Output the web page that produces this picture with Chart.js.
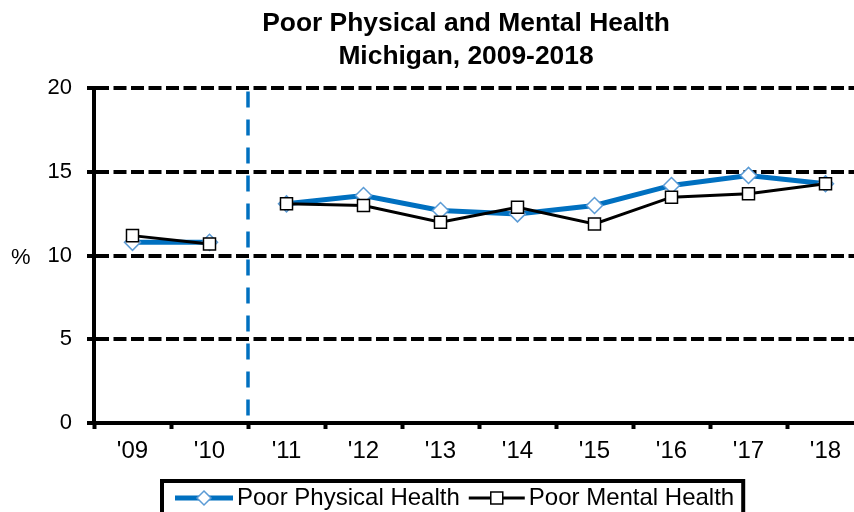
<!DOCTYPE html>
<html>
<head>
<meta charset="utf-8">
<script src="https://cdn.jsdelivr.net/npm/chart.js@4"></script>
<style>
  html, body { margin: 0; padding: 0; background: #fff; overflow: hidden; }
  #wrap { width: 932px; height: 512px; }
</style>
</head>
<body>
<div id="wrap"><canvas id="healthChart" width="932" height="512"></canvas></div>
<script>
var years = ["'09", "'10", "'11", "'12", "'13", "'14", "'15", "'16", "'17", "'18"];
var physical = [10.8, 10.8, 13.1, 13.6, 12.7, 12.5, 13.0, 14.2, 14.8, 14.3];
var mental = [11.2, 10.7, 13.1, 13.0, 12.0, 12.9, 11.9, 13.5, 13.7, 14.3];
var yTicks = [0, 5, 10, 15, 20];
var seriesNames = ['Poor Physical Health', 'Poor Mental Health'];

var FONT = 'Liberation Sans, Arial, sans-serif';
var BLUE = '#0070C0';
var LIGHT_BLUE = '#5B9BD5';

// the survey method changed after 2010, so lines are broken there
var breakAfter = 1;

var gapSegment = function (color) {
    return function (ctx) {
        return ctx.p0DataIndex === breakAfter ? 'rgba(0,0,0,0)' : color;
    };
};

var extras = {
    id: 'extras',
    beforeDatasetsDraw: function (chart) {
        var ctx = chart.ctx;
        var area = chart.chartArea;
        var x = chart.scales.x.getPixelForValue(breakAfter + 0.5);
        ctx.save();
        ctx.strokeStyle = BLUE;
        ctx.lineWidth = 3.5;
        ctx.setLineDash([16, 12]);
        ctx.beginPath();
        ctx.moveTo(x, area.top + 3);
        ctx.lineTo(x, area.bottom);
        ctx.stroke();
        ctx.restore();
    },
    afterDraw: function (chart) {
        var ctx = chart.ctx;
        var y = chart.scales.y;
        ctx.save();
        ctx.fillStyle = '#000';
        ctx.font = '22px ' + FONT;
        ctx.textBaseline = 'middle';
        ctx.textAlign = 'left';
        ctx.fillText('%', 11, y.getPixelForValue(10) + 2);

        // legend
        var top = 481, left = 162, ty = 498;
        var x = 175;
        ctx.font = '24px ' + FONT;
        ctx.lineWidth = 5;
        ctx.strokeStyle = BLUE;
        ctx.beginPath(); ctx.moveTo(x, ty); ctx.lineTo(x + 58, ty); ctx.stroke();
        ctx.lineWidth = 1.5;
        ctx.strokeStyle = LIGHT_BLUE;
        ctx.fillStyle = '#fff';
        ctx.beginPath();
        ctx.moveTo(x + 29, ty - 7); ctx.lineTo(x + 36, ty); ctx.lineTo(x + 29, ty + 7); ctx.lineTo(x + 22, ty);
        ctx.closePath(); ctx.fill(); ctx.stroke();
        x += 62;
        ctx.fillStyle = '#000';
        ctx.fillText(seriesNames[0], x, ty);
        x += ctx.measureText(seriesNames[0]).width + 9;

        ctx.lineWidth = 3;
        ctx.strokeStyle = '#000';
        ctx.beginPath(); ctx.moveTo(x, ty); ctx.lineTo(x + 56, ty); ctx.stroke();
        ctx.lineWidth = 1.5;
        ctx.fillStyle = '#fff';
        ctx.fillRect(x + 22, ty - 6, 12, 12);
        ctx.strokeRect(x + 22, ty - 6, 12, 12);
        x += 60;
        ctx.fillStyle = '#000';
        ctx.fillText(seriesNames[1], x, ty);
        x += ctx.measureText(seriesNames[1]).width + 9;

        ctx.lineWidth = 4;
        ctx.strokeRect(left, top, x - left, 60);
        ctx.restore();
    }
};

new Chart(document.getElementById('healthChart'), {
    type: 'line',
    data: {
        labels: years,
        datasets: [
            {
                label: seriesNames[0],
                data: physical,
                order: 2,
                borderColor: BLUE,
                borderWidth: 5,
                tension: 0,
                pointStyle: 'rectRot',
                pointRadius: 8,
                pointBackgroundColor: '#fff',
                pointBorderColor: LIGHT_BLUE,
                pointBorderWidth: 1.5,
                segment: { borderColor: gapSegment(BLUE) }
            },
            {
                label: seriesNames[1],
                data: mental,
                order: 1,
                borderColor: '#000',
                borderWidth: 3,
                tension: 0,
                pointStyle: 'rect',
                pointRadius: 8.5,
                pointBackgroundColor: '#fff',
                pointBorderColor: '#000',
                pointBorderWidth: 1.5,
                segment: { borderColor: gapSegment('#000') }
            }
        ]
    },
    options: {
        responsive: false,
        animation: false,
        layout: { padding: { left: 0, right: 0, top: 0, bottom: 49 } },
        scales: {
            x: {
                offset: true,
                grid: {
                    offset: true,
                    drawOnChartArea: false,
                    tickLength: 6,
                    tickWidth: 4,
                    tickColor: '#000'
                },
                border: { display: true, color: '#000', width: 4 },
                ticks: { color: '#000', font: { family: FONT, size: 24 }, padding: 8, maxRotation: 0 },
                afterFit: function (s) { s.height = 40; }
            },
            y: {
                min: 0,
                max: 20,
                afterBuildTicks: function (s) {
                    s.ticks = yTicks.map(function (v) { return { value: v }; });
                },
                grid: {
                    color: '#000',
                    lineWidth: 4,
                    tickLength: 7,
                    tickBorderDash: []
                },
                border: { display: true, color: '#000', width: 4, dash: [13, 4.5] },
                ticks: { color: '#000', font: { family: FONT, size: 22 }, padding: 15 },
                afterFit: function (s) { s.width = 94; }
            },
            // blank spacer on the right so the title sits over the whole figure
            spacer: {
                position: 'right',
                min: 0,
                max: 1,
                grid: { display: false },
                border: { display: false },
                ticks: { display: false },
                afterFit: function (s) { s.width = 68; }
            }
        },
        plugins: {
            legend: { display: false },
            tooltip: { enabled: false },
            title: {
                display: true,
                text: ['Poor Physical and Mental Health', 'Michigan, 2009-2018'],
                color: '#000',
                font: { family: FONT, size: 26.4, weight: 'bold', lineHeight: 1.22 },
                padding: { top: 8, bottom: 16 }
            }
        }
    },
    plugins: [extras]
});
</script>
</body>
</html>
